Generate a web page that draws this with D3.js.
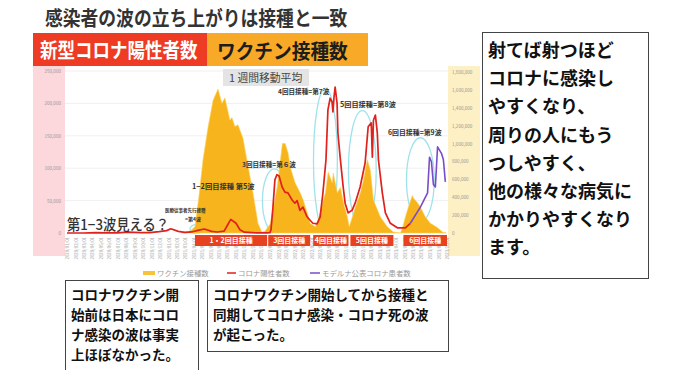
<!DOCTYPE html>
<html><head><meta charset="utf-8">
<script src="https://cdn.jsdelivr.net/npm/d3@7"></script>
<style>
body{margin:0;background:#fff;}
svg{display:block;}
text{font-family:"Noto Sans CJK JP","Noto Sans",sans-serif;}
</style>
</head><body>
<svg id="c" width="680" height="370"></svg>
<script>
// ---------- DATA ----------
const caseDates = ["2020-01-01","2020-03-01","2020-04-12","2020-05-25","2020-07-01","2020-08-07","2020-09-25","2020-10-25","2020-11-28","2020-12-25","2021-01-09","2021-02-05","2021-03-01","2021-03-25","2021-04-20","2021-05-10","2021-06-05","2021-06-25","2021-07-20","2021-08-01","2021-08-13","2021-09-01","2021-09-15","2021-10-01","2021-11-15","2021-12-20","2022-01-01","2022-01-05","2022-01-12","2022-01-19","2022-01-26","2022-02-03","2022-02-14","2022-02-24","2022-03-07","2022-03-22","2022-04-01","2022-04-09","2022-04-19","2022-04-30","2022-05-15","2022-05-25","2022-06-05","2022-06-20","2022-07-01","2022-07-11","2022-07-22","2022-07-29","2022-08-06","2022-08-13","2022-08-16","2022-08-20","2022-08-24","2022-08-31","2022-09-03","2022-09-11","2022-09-22","2022-09-29","2022-10-10","2022-10-24","2022-11-04","2022-11-22","2022-12-10","2022-12-21","2023-01-01","2023-01-05","2023-01-09","2023-01-16","2023-01-23","2023-01-27","2023-02-10","2023-02-21","2023-03-11","2023-04-05","2023-05-04","2023-05-22"];
const caseValues = [0,30,550,40,150,1350,480,650,2200,3700,6500,2500,1000,1600,4500,6200,2500,1500,3000,12000,21000,15000,5000,1200,150,200,600,5000,40000,82000,90000,88000,71000,63000,62000,51000,46000,50000,35000,40000,25000,20000,15000,14000,25000,62000,113000,190000,208000,202000,187000,210000,225000,200000,154000,117000,71000,46000,31000,35000,46000,71000,108000,164000,170000,117000,174000,182000,154000,113000,62000,31000,15000,8000,8000,15000];

const vaxDates = ["2021-02-17","2021-03-19","2021-04-06","2021-04-20","2021-05-05","2021-05-23","2021-06-10","2021-06-28","2021-07-12","2021-07-23","2021-08-10","2021-08-17","2021-08-28","2021-09-08","2021-09-26","2021-10-10","2021-11-01","2021-11-19","2021-12-03","2021-12-14","2022-01-02","2022-01-27","2022-02-15","2022-02-25","2022-03-08","2022-03-15","2022-04-02","2022-04-20","2022-05-01","2022-05-16","2022-05-26","2022-06-14","2022-06-24","2022-07-20","2022-07-30","2022-08-14","2022-08-17","2022-09-01","2022-09-12","2022-09-23","2022-10-07","2022-10-14","2022-10-25","2022-11-05","2022-11-23","2022-12-04","2022-12-18","2022-12-29","2023-01-09","2023-02-03","2023-02-28","2023-03-22","2023-04-16","2023-04-23","2023-05-04","2023-05-15","2023-05-29","2023-06-02","2023-06-16","2023-06-27","2023-07-15","2023-08-02","2023-08-28","2023-09-15","2023-09-29"];
const vaxValues = [0,20000,70000,400000,820000,1180000,1480000,1610000,1450000,1510000,1260000,1290000,1190000,1210000,1060000,820000,450000,110000,10000,20000,100000,510000,1000000,1000000,890000,740000,560000,450000,370000,220000,110000,70000,150000,450000,680000,560000,670000,450000,510000,340000,180000,70000,180000,290000,450000,590000,820000,700000,370000,180000,70000,10000,0,50000,180000,290000,420000,390000,340000,290000,180000,110000,60000,10000,0];

const modernaDates = ["2023-05-22","2023-06-27","2023-07-23","2023-07-30","2023-08-06","2023-08-13","2023-08-20","2023-08-28","2023-09-04","2023-09-11","2023-09-18","2023-09-25"];
const modernaValues = [15000,40000,62000,117000,110000,75000,71000,133000,128000,123000,113000,79000];

const leftTicks = [0,50000,100000,150000,200000,250000];
const rightTicks = [0,200000,400000,600000,800000,1000000,1200000,1400000,1600000,1800000];

const phaseNames = ["1・2回目接種","3回目接種","4回目接種","5回目接種","6回目接種"];
const phaseStarts = ["2021-04-06","2021-12-26","2022-06-06","2022-10-18","2023-04-27"];
const phaseEnds = ["2021-12-22","2022-05-26","2022-10-11","2023-03-22","2023-10-01"];

// highlight ovals: centre date, centre value (left axis), half-width in days, half-height in cases
const ovalDates = ["2021-04-10","2022-01-17","2022-07-20","2022-11-30","2023-06-27"];
const ovalValues = [6000,50000,112000,97000,82000];
const ovalDays = [22,43,43,50,50];
const ovalSpans = [7000,49000,111000,92000,65000];

const rightBoxLines = ["射てば射つほど","コロナに感染し","やすくなり、","周りの人にもう","つしやすく、","他の様々な病気に","かかりやすくなり","ます。"];
const box1Lines = ["コロナワクチン開","始前は日本にコロ","ナ感染の波は事実","上ほぼなかった。"];
const box2Lines = ["コロナワクチン開始してから接種と","同期してコロナ感染・コロナ死の波","が起こった。"];

// ---------- CHART ----------
const svg = d3.select("#c");
const parse = d3.timeParse("%Y-%m-%d");
const x = d3.scaleTime().domain([parse("2020-01-01"), parse("2023-10-01")]).range([67, 447]);
const yL = d3.scaleLinear().domain([0, 250000]).range([233, 71]);
const yR = d3.scaleLinear().domain([0, 1800000]).range([233, 72]);

// title
svg.append("text").attr("transform", "translate(45,26) scale(1,1.12)")
  .attr("font-size", 17.8).attr("font-weight", 700).attr("fill", "#333")
  .text("感染者の波の立ち上がりは接種と一致");

// banners
svg.append("rect").attr("x", 33).attr("y", 33).attr("width", 174).attr("height", 33).attr("fill", "#ee3b24");
svg.append("rect").attr("x", 207).attr("y", 33).attr("width", 161).attr("height", 33).attr("fill", "#f8a927");
svg.append("text").attr("transform", "translate(40,58) scale(1,1.18)")
  .attr("font-size", 17.5).attr("font-weight", 700).attr("fill", "#fff").text("新型コロナ陽性者数");
svg.append("text").attr("transform", "translate(217,58.5) scale(1,1.1)")
  .attr("font-size", 18.7).attr("font-weight", 700).attr("fill", "#1d1d1d").text("ワクチン接種数");

// chart panel backgrounds
svg.append("rect").attr("x", 33).attr("y", 66).attr("width", 32).attr("height", 190).attr("fill", "#fcd7db");
svg.append("rect").attr("x", 448).attr("y", 66).attr("width", 32).attr("height", 190).attr("fill", "#fdf0c4");

// grid
svg.append("g").selectAll("line").data(leftTicks.slice(1)).join("line")
  .attr("x1", 65).attr("x2", 448).attr("y1", d => yL(d)).attr("y2", d => yL(d))
  .attr("stroke", "#ebebeb").attr("stroke-width", 0.8);

// highlight ovals (behind the vaccine area)
svg.append("g").selectAll("ellipse").data(ovalDates).join("ellipse")
  .attr("cx", d => x(parse(d)))
  .attr("cy", (d, i) => yL(ovalValues[i]))
  .attr("rx", (d, i) => x(d3.timeDay.offset(parse(d), ovalDays[i])) - x(parse(d)))
  .attr("ry", (d, i) => yL(0) - yL(ovalSpans[i]))
  .attr("fill", "none").attr("stroke", "#9fe3ea").attr("stroke-width", 1.3);

// vaccine area
const vax = vaxDates.map((d, i) => ({date: parse(d), v: vaxValues[i]}));
svg.append("path").datum(vax)
  .attr("d", d3.area().x(d => x(d.date)).y0(yR(0)).y1(d => yR(d.v)))
  .attr("fill", "#f8b41c").attr("stroke", "#fcd35e").attr("stroke-width", 0.6);

// cases line
const cases = caseDates.map((d, i) => ({date: parse(d), v: caseValues[i]}));
svg.append("path").datum(cases)
  .attr("d", d3.line().x(d => x(d.date)).y(d => yL(d.v)))
  .attr("fill", "none").attr("stroke", "#e0211c").attr("stroke-width", 1.7).attr("stroke-linejoin", "round");

// moderna line
const mod = modernaDates.map((d, i) => ({date: parse(d), v: modernaValues[i]}));
svg.append("path").datum(mod)
  .attr("d", d3.line().x(d => x(d.date)).y(d => yL(d.v)))
  .attr("fill", "none").attr("stroke", "#7a4cc8").attr("stroke-width", 1.6).attr("stroke-linejoin", "round");

// x axis tick labels
const xa = svg.append("g").attr("transform", "translate(0,236)")
  .call(d3.axisBottom(x).ticks(d3.timeMonth.every(1)).tickSize(0).tickFormat(d3.timeFormat("%Y/%m/%d")));
xa.select(".domain").remove();
xa.selectAll("text").attr("transform", "rotate(-90)").attr("x", -1).attr("y", 0).attr("dy", "0.35em")
  .attr("text-anchor", "end").attr("font-size", 4.3).attr("fill", "#aaa");

// left axis
const la = svg.append("g").attr("transform", "translate(61,0)")
  .call(d3.axisLeft(yL).tickValues(leftTicks).tickSize(0).tickPadding(0).tickFormat(d3.format(",")));
la.select(".domain").remove();
la.selectAll("text").attr("font-size", 4.6).attr("fill", "#999");

// right axis
const ra = svg.append("g").attr("transform", "translate(452,0)")
  .call(d3.axisRight(yR).tickValues(rightTicks).tickSize(0).tickPadding(0).tickFormat(d3.format(",")));
ra.select(".domain").remove();
ra.selectAll("text").attr("font-size", 4.6).attr("fill", "#999");

// phase labels
const ph = svg.append("g").selectAll("g").data(phaseNames).join("g");
ph.append("rect")
  .attr("x", (d, i) => x(parse(phaseStarts[i])))
  .attr("width", (d, i) => x(parse(phaseEnds[i])) - x(parse(phaseStarts[i])))
  .attr("y", 235).attr("height", 11).attr("fill", "#e8411f");
ph.append("text")
  .attr("x", (d, i) => (x(parse(phaseStarts[i])) + x(parse(phaseEnds[i]))) / 2)
  .attr("y", 243.2).attr("text-anchor", "middle").attr("font-size", 7).attr("font-weight", 700)
  .attr("fill", "#fff").text(d => d);

// annotations
svg.append("rect").attr("x", 223).attr("y", 69).attr("width", 86).attr("height", 17).attr("fill", "#e4e4e4");
svg.append("text").attr("x", 229).attr("y", 82).attr("font-size", 10.8).attr("fill", "#444")
  .text("1 週間移動平均");
const small = [
  ["4回目接種=第7波", 278, 94, 6.6],
  ["5回目接種=第8波", 340, 107, 7.2],
  ["6回目接種=第9波", 388, 135, 6.9],
  ["3回目接種=第６波", 242, 167, 6.6],
  ["1−2回目接種 第5波", 192, 189, 7.3],
  ["医療従事者先行接種", 165, 212, 4.5],
  ["=第4波", 185, 221, 5]
];
svg.append("g").selectAll("text").data(small).join("text")
  .attr("x", d => d[1]).attr("y", d => d[2]).attr("font-size", d => d[3]).attr("font-weight", 700)
  .attr("fill", "#333").text(d => d[0]);
svg.append("text").attr("transform", "translate(67,230) scale(1,1.1)")
  .attr("font-size", 13.3).attr("font-weight", 500).attr("fill", "#333").text("第1−3波見える？");

// legend
const lg = svg.append("g").attr("font-size", 7.4).attr("fill", "#999");
lg.append("rect").attr("x", 143).attr("y", 271).attr("width", 12).attr("height", 4).attr("fill", "#f8c33a");
lg.append("text").attr("x", 157).attr("y", 276).text("ワクチン接種数");
lg.append("line").attr("x1", 227).attr("x2", 236).attr("y1", 273).attr("y2", 273).attr("stroke", "#e0211c").attr("stroke-width", 1.5);
lg.append("text").attr("x", 238).attr("y", 276).text("コロナ陽性者数");
lg.append("line").attr("x1", 310).attr("x2", 320).attr("y1", 273).attr("y2", 273).attr("stroke", "#7a4cc8").attr("stroke-width", 1.5);
lg.append("text").attr("x", 322).attr("y", 276).text("モデルナ公表コロナ患者数");

// right text box
svg.append("rect").attr("x", 482.5).attr("y", 32.5).attr("width", 166).attr("height", 246)
  .attr("fill", "#fff").attr("stroke", "#444").attr("stroke-width", 1);
svg.append("g").selectAll("text").data(rightBoxLines).join("text")
  .attr("x", 488).attr("y", (d, i) => 57 + i * 28.2).attr("font-size", 18).attr("font-weight", 700)
  .attr("fill", "#111").text(d => d);

// bottom boxes
svg.append("rect").attr("x", 65.5).attr("y", 280.5).attr("width", 133).attr("height", 100)
  .attr("fill", "#fff").attr("stroke", "#444").attr("stroke-width", 1);
svg.append("g").selectAll("text").data(box1Lines).join("text")
  .attr("x", 71).attr("y", (d, i) => 300 + i * 20).attr("font-size", 13.5).attr("font-weight", 700)
  .attr("fill", "#111").text(d => d);
svg.append("rect").attr("x", 207.5).attr("y", 280.5).attr("width", 241).attr("height", 71)
  .attr("fill", "#fff").attr("stroke", "#444").attr("stroke-width", 1);
svg.append("g").selectAll("text").data(box2Lines).join("text")
  .attr("x", 213).attr("y", (d, i) => 300 + i * 20).attr("font-size", 13.5).attr("font-weight", 700)
  .attr("fill", "#111").text(d => d);
</script>
</body></html>
